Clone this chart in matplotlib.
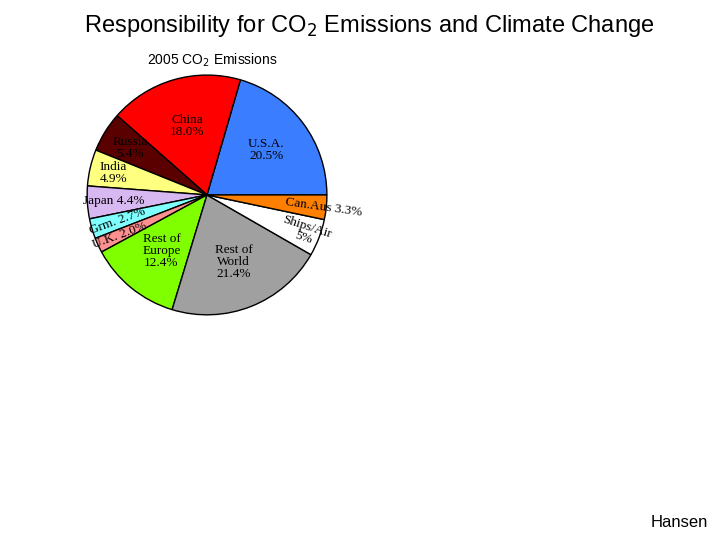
import matplotlib.pyplot as plt
import numpy as np

labels = ["U.S.A.\n20.5%", "China\n18.0%", "Russia\n5.4%", "India\n4.9%", "Japan 4.4%",
          "Grm. 2.7%", "U.K. 2.0%", "Rest of\nEurope\n12.4%", "Rest of\nWorld\n21.4%",
          "Ships/Air\n5%", "Can.Aus 3.3%"]
shares = [20.5, 18.0, 5.4, 4.9, 4.4, 2.7, 2.0, 12.4, 21.4, 5.0, 3.3]
colors = ["#3a7dff", "#ff0000", "#5a0000", "#ffff80", "#d8b8f0", "#80ffff", "#ff9090",
          "#80ff00", "#a0a0a0", "#ffffff", "#ff8000"]
label_r = [0.62, 0.6, 0.75, 0.8, 0.78, 0.78, 0.8, 0.6, 0.6, 0.88, 0.98]

fig = plt.figure(figsize=(7.2, 5.4), dpi=100)
fig.text(0.513, 0.952, "Responsibility for CO$_2$ Emissions and Climate Change",
         ha="center", va="center", fontsize=17, family="Liberation Sans")
fig.text(0.295, 0.888, "2005 CO$_2$ Emissions", ha="center", va="center",
         fontsize=10, family="Liberation Sans")
fig.text(0.983, 0.033, "Hansen", ha="right", va="center", fontsize=12,
         family="Liberation Sans")

ax = fig.add_axes([0.121, 0.417, 0.333, 0.444])
wedges, texts = ax.pie(shares, colors=colors, startangle=0, counterclock=True,
                       wedgeprops=dict(edgecolor="black", linewidth=1))
ang0 = 0
for lab, r, s in zip(labels, label_r, shares):
    mid = np.deg2rad(ang0 + s * 3.6 / 2)
    ang0 += s * 3.6
    rot = 0
    if lab.startswith(("Grm", "U.K.")):
        rot = 20
    if lab.startswith("Can"):
        rot = -8
    if lab.startswith("Ships"):
        rot = -18
    ax.text(r * np.cos(mid), r * np.sin(mid), lab, ha="center", va="center",
            fontsize=9.5, family="Liberation Serif", rotation=rot, linespacing=1.0)
ax.set_xlim(-1.0, 1.0)
ax.set_ylim(-1.0, 1.0)
ax.set_aspect("equal")
fig.savefig("out.png")
